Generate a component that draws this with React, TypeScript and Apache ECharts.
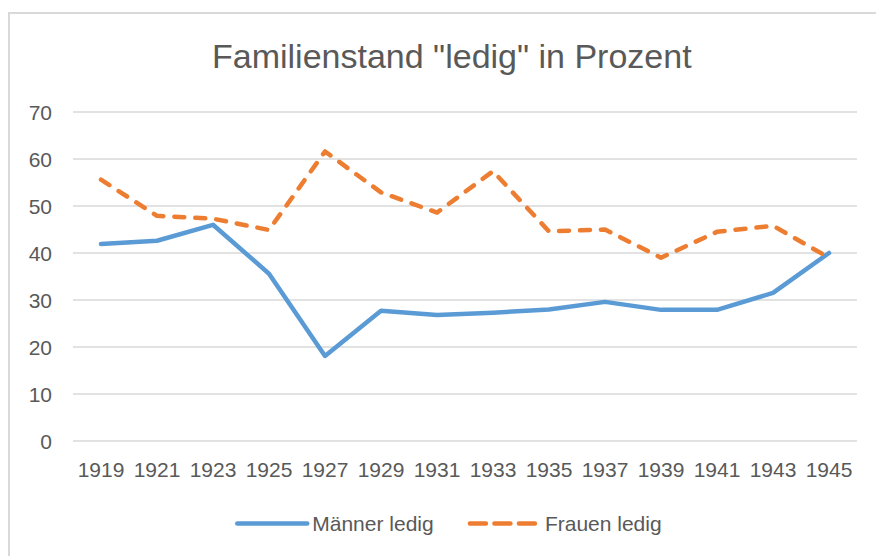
import React, { useEffect, useRef } from "react";
import * as echarts from "echarts";

const years = ["1919", "1921", "1923", "1925", "1927", "1929", "1931", "1933", "1935", "1937", "1939", "1941", "1943", "1945"];
const maenner = [41.9, 42.6, 46.0, 35.6, 18.1, 27.7, 26.8, 27.3, 28.0, 29.6, 27.9, 27.9, 31.5, 40.0];
const frauen = [55.6, 47.9, 47.3, 44.9, 61.6, 52.9, 48.6, 57.4, 44.6, 45.0, 39.0, 44.5, 45.8, 39.0];
const yTicks = { min: 0, max: 70, interval: 10 };

const FONT = "Liberation Sans, Arial, sans-serif";
const TXT = "#595959";
const BLUE = "#5B9BD5";
const ORANGE = "#ED7D31";

export default function App() {
  const ref = useRef<HTMLDivElement>(null);
  useEffect(() => {
    if (!ref.current) return;
    const chart = echarts.init(ref.current, null, { renderer: "svg" });
    chart.setOption({
      animation: false,
      backgroundColor: "#ffffff",
      graphic: [
        {
          type: "rect",
          shape: { x: 9, y: 13, width: 900, height: 600 },
          style: { fill: "none", stroke: "#d9d9d9", lineWidth: 2 },
          silent: true,
        },
      ],
      title: {
        text: 'Familienstand "ledig" in Prozent',
        left: 212,
        top: 39,
        padding: 0,
        textStyle: { fontFamily: FONT, fontSize: 34, fontWeight: "normal", color: TXT },
      },
      legend: {
        left: 235,
        top: 513,
        padding: 0,
        itemWidth: 70,
        itemHeight: 10,
        itemGap: 34,
        textStyle: { fontFamily: FONT, fontSize: 21, color: TXT },
        itemStyle: { opacity: 0 },
        lineStyle: { width: 4.5, cap: "round" },
        data: [
          { name: "Männer ledig", lineStyle: { color: BLUE, width: 4.5, cap: "round", type: "solid" } },
          { name: "Frauen ledig", lineStyle: { color: ORANGE, width: 4.5, cap: "round", type: [16, 8.5] } },
        ],
      },
      grid: { left: 73, right: 19, top: 112, bottom: 115 },
      xAxis: {
        type: "category",
        data: years,
        boundaryGap: true,
        axisLine: { show: false },
        axisTick: { show: false },
        axisLabel: { fontFamily: FONT, fontSize: 21, color: TXT, margin: 18, interval: 0 },
      },
      yAxis: {
        type: "value",
        min: yTicks.min,
        max: yTicks.max,
        interval: yTicks.interval,
        axisLine: { show: false },
        axisTick: { show: false },
        axisLabel: { fontFamily: FONT, fontSize: 21, color: TXT, margin: 21 },
        splitLine: { lineStyle: { color: "#d9d9d9", width: 1.5 } },
      },
      series: [
        {
          name: "Männer ledig",
          type: "line",
          data: maenner,
          symbol: "none",
          lineStyle: { color: BLUE, width: 4.5, cap: "round", join: "round" },
          itemStyle: { color: BLUE },
        },
        {
          name: "Frauen ledig",
          type: "line",
          data: frauen,
          symbol: "none",
          lineStyle: { color: ORANGE, width: 4.5, type: [10, 11], cap: "round", join: "round" },
          itemStyle: { color: ORANGE },
        },
      ],
    });
    return () => chart.dispose();
  }, []);
  return (
    <div
      ref={ref}
      style={{ position: "fixed", left: 0, top: 0, width: 876, height: 556 }}
    />
  );
}
